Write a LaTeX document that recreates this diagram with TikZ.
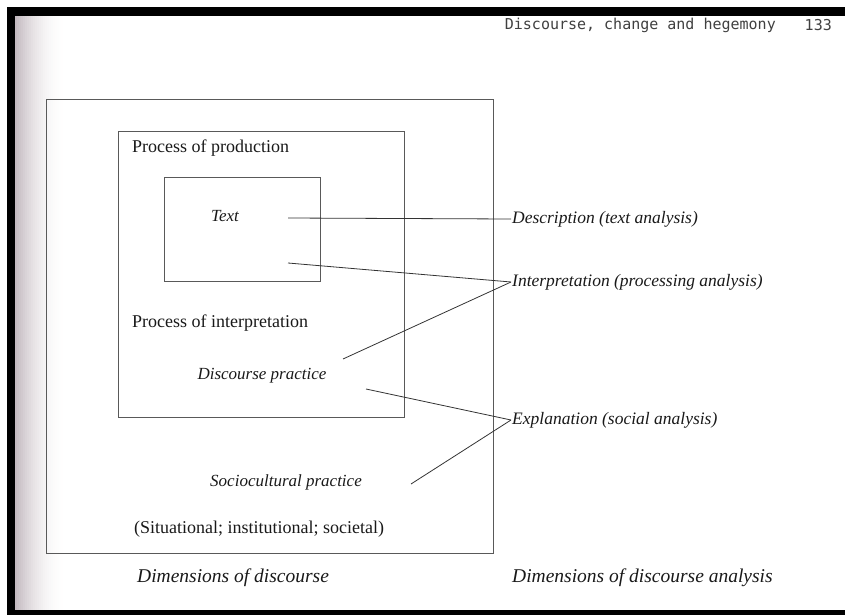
\documentclass[tikz,border=0pt]{standalone}
\usepackage{fontspec}
\setmainfont{Liberation Serif}
\newfontfamily\headfont{DejaVu Sans Mono}
\usetikzlibrary{calc}
\definecolor{gutter}{RGB}{196,186,192}

\begin{document}
\begin{tikzpicture}[x=1pt,y=-1pt]
	\tikzstyle{every node}=[font=\fontsize{18}{21}\selectfont, text=black!90, inner sep=1pt]
	\tikzstyle{frame}=[draw=black!65, line width=0.8pt]
	\tikzstyle{link}=[draw=black!80, line width=0.8pt]
	\tikzstyle{dim}=[font=\fontsize{17}{20}\selectfont\itshape]
	\tikzstyle{ana}=[font=\fontsize{17.5}{20}\selectfont\itshape, anchor=west]
	\tikzstyle{captext}=[font=\fontsize{19.5}{23}\selectfont\itshape, anchor=west]
	\useasboundingbox (0,0) rectangle (845,615);
	
	% edges of the scanned page
	\foreach \i in {0,...,24} {
		\pgfmathsetmacro\fade{100*(1-\i/25)^2}
		\fill[gutter!\fade] (15+2*\i,16) rectangle (17.4+2*\i,610);
	}
	\fill[black] (7,7) rectangle (845,16);
	\fill[black] (7,7) rectangle (15,615);
	\fill[black] (7,610) rectangle (845,615);
	
	% running head
	\node[font=\headfont\fontsize{15}{18}\selectfont, text=black!75, anchor=east] (title) at (777,25) {Discourse, change and hegemony};
	\node[font=\headfont\fontsize{15}{18}\selectfont, text=black!75, anchor=east] (page) at (833,25) {133};
	
	% the three nested dimensions
	\draw[frame] (46,99) rectangle (493,553);
	\draw[frame] (118,131) rectangle (404,417);
	\draw[frame] (164,177) rectangle (320,281);
	
	\node[anchor=west] (prod) at (131,148) {Process of production};
	\node[dim] (text) at (225,216) {Text};
	\node[anchor=west] (interp) at (131,323) {Process of interpretation};
	\node[dim] (dprac) at (262,376) {Discourse practice};
	\node[dim] (sprac) at (286,482) {Sociocultural practice};
	\node (sit) at (259,529) {(Situational; institutional; societal)};
	
	% analysis labels
	\node[ana] (desc) at (511,219) {Description (text analysis)};
	\node[ana] (intp) at (511,282) {Interpretation (processing analysis)};
	\node[ana] (expl) at (511,420) {Explanation (social analysis)};
	
	\node[captext] (dimdis) at (136,578) {Dimensions of discourse};
	\node[captext] (dimana) at (511,578) {Dimensions of discourse analysis};
	
	% connectors
	\coordinate (textA) at (288,218);
	\coordinate (textB) at (288,263);
	\coordinate (dpracA) at (343,359);
	\coordinate (dpracB) at (366,389);
	\coordinate (spracA) at (411,484);
	
	\draw[link] (textA) -- (desc.west);
	\draw[link] (textB) -- (intp.west);
	\draw[link] (dpracA) -- (intp.west);
	\draw[link] (dpracB) -- (expl.west);
	\draw[link] (spracA) -- (expl.west);
	
\end{tikzpicture}
\end{document}
